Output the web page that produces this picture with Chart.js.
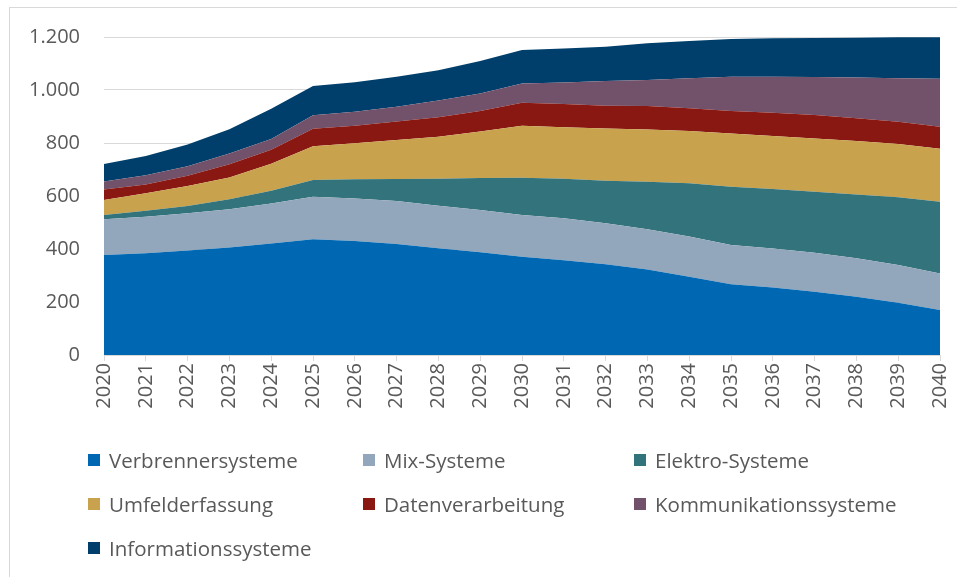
<!DOCTYPE html>
<html>
<head>
<meta charset="utf-8">
<script src="https://cdn.jsdelivr.net/npm/chart.js@4/dist/chart.umd.min.js"></script>
<style>
  body { margin: 0; background: #fff; overflow: hidden; }
  #wrap { position: relative; width: 957px; height: 577px; }
  #frame { position: absolute; left: 9px; top: 7px; width: 960px; height: 600px; border: 1px solid #d9d9d9; box-sizing: border-box; }
  #legend { position: absolute; left: 88px; top: 438px; display: grid; grid-template-columns: 275px 271px 300px; grid-auto-rows: 44px;
            font-family: "Open Sans", sans-serif; font-size: 20.5px; color: #595959; }
  #legend div { display: flex; align-items: center; white-space: nowrap; }
  #legend span.box { display: inline-block; width: 12px; height: 12px; margin-right: 9px; }
</style>
</head>
<body>
<div id="wrap">
  <div id="frame"></div>
  <canvas id="chart" width="957" height="577"></canvas>
  <div id="legend"></div>
</div>
<script>
const years = ['2020','2021','2022','2023','2024','2025','2026','2027','2028','2029','2030',
               '2031','2032','2033','2034','2035','2036','2037','2038','2039','2040'];

const verbrenner = [377,384,394,406,421,437,430,419,403,388,371,358,342,323,295,267,255,239,220,197,170];
const mix        = [135,138,141,144,151,160,161,162,160,159,157,158,155,152,152,148,147,147,145,143,138];
const elektro    = [16,22,27,38,48,63,72,83,102,121,141,149,161,179,201,220,224,230,241,255,270];
const umfeld     = [57,66,76,82,102,128,136,147,159,175,196,194,197,197,197,201,200,201,202,201,200];
const daten      = [40,33,38,50,53,66,66,70,73,78,87,88,86,89,86,85,88,89,85,84,83];
const kommunik   = [30,35,36,40,40,51,53,56,63,66,73,81,93,98,113,129,136,143,154,164,181];
const info       = [66,73,82,92,114,110,111,113,115,122,126,129,129,138,141,142,145,147,150,155,157];

const yTicks = [0, 200, 400, 600, 800, 1000, 1200];

const series = [
  { label: 'Verbrennersysteme', data: verbrenner, color: '#0068b3' },
  { label: 'Mix-Systeme', data: mix, color: '#92a7bb' },
  { label: 'Elektro-Systeme', data: elektro, color: '#33737b' },
  { label: 'Umfelderfassung', data: umfeld, color: '#c9a24d' },
  { label: 'Datenverarbeitung', data: daten, color: '#8a1812' },
  { label: 'Kommunikationssysteme', data: kommunik, color: '#72526b' },
  { label: 'Informationssysteme', data: info, color: '#003f6b' }
];

const ctx = document.getElementById('chart').getContext('2d');

new Chart(ctx, {
  type: 'line',
  data: {
    labels: years,
    datasets: series.map((s, i) => ({
      label: s.label,
      data: s.data,
      backgroundColor: s.color,
      borderColor: s.color,
      borderWidth: 0,
      pointRadius: 0,
      tension: 0,
      fill: i === 0 ? 'origin' : '-1'
    }))
  },
  options: {
    responsive: false,
    animation: false,
    layout: { padding: { top: 37, right: 17, left: 0, bottom: 0 } },
    plugins: {
      legend: { display: false },
      tooltip: { enabled: false }
    },
    scales: {
      x: {
        grid: { drawOnChartArea: false, drawTicks: true, tickLength: 6, color: '#d9d9d9' },
        border: { color: '#d9d9d9' },
        ticks: {
          color: '#595959',
          font: { family: 'Open Sans', size: 20 },
          minRotation: 90,
          maxRotation: 90,
          padding: 2,
          autoSkip: false
        },
        afterFit: (scale) => {
          scale.height = 222;
          scale.paddingLeft = 0;
          scale.paddingRight = 0;
        }
      },
      y: {
        stacked: true,
        min: 0,
        max: 1200,
        afterBuildTicks: (scale) => { scale.ticks = yTicks.map(v => ({ value: v })); },
        grid: { color: '#d9d9d9', drawTicks: false },
        border: { display: false },
        ticks: {
          color: '#595959',
          font: { family: 'Open Sans', size: 20 },
          padding: 24,
          callback: (v) => v.toLocaleString('de-DE')
        },
        afterFit: (scale) => { scale.width = 104; }
      }
    }
  }
});

const legend = document.getElementById('legend');
series.forEach(s => {
  const item = document.createElement('div');
  item.innerHTML = '<span class="box" style="background:' + s.color + '"></span>' + s.label;
  legend.appendChild(item);
});
</script>
</body>
</html>
